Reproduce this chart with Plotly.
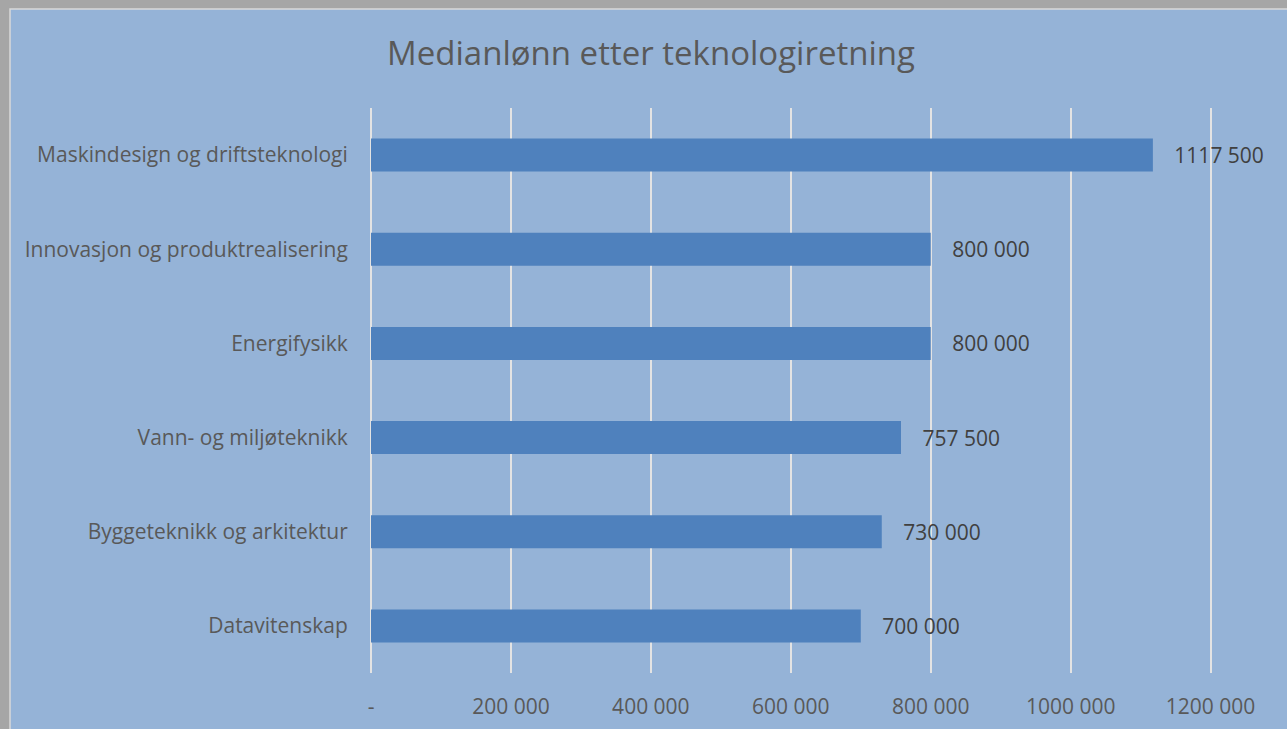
import plotly.graph_objects as go

categories = ["Datavitenskap", "Byggeteknikk og arkitektur", "Vann- og miljøteknikk",
              "Energifysikk", "Innovasjon og produktrealisering", "Maskindesign og driftsteknologi"]
values = [700000, 730000, 757500, 800000, 800000, 1117500]
value_labels = ["700 000", "730 000", "757 500", "800 000", "800 000", "1117 500"]
tick_vals = [0, 200000, 400000, 600000, 800000, 1000000, 1200000]
tick_text = ["-", "200 000", "400 000", "600 000", "800 000", "1000 000", "1200 000"]

W, H = 1287, 729
ml, mr, mt, mb = 371, 75, 108, 56
pw, ph = W - ml - mr, H - mt - mb

def px(x):
    return (x - ml) / pw

def py(y):
    return (H - mb - y) / ph

FONT = "Open Sans"

fig = go.Figure(go.Bar(
    y=categories, x=values, orientation="h",
    marker=dict(color="#4F81BD", line=dict(width=0)),
    text=["   \u200a" + t for t in value_labels], textposition="outside",
    textfont=dict(color="#404040", size=21, family=FONT),
    cliponaxis=False, width=0.35,
))

fig.add_shape(type="rect", xref="paper", yref="paper",
              x0=px(10), x1=px(W + 20), y0=py(H + 20), y1=py(9),
              fillcolor="#95B3D7", line=dict(color="#D9D9D9", width=1.5), layer="below")

fig.update_layout(
    width=W, height=H,
    margin=dict(l=ml, r=mr, t=mt, b=mb, pad=0, autoexpand=False),
    paper_bgcolor="#A6A6A6", plot_bgcolor="rgba(0,0,0,0)",
    showlegend=False,
    title=dict(text="Medianlønn etter teknologiretning", x=651 / W, xanchor="center",
               xref="container", y=1 - 53 / H, yanchor="middle",
               font=dict(family=FONT, size=33, color="#595959")),
    xaxis=dict(range=[0, 1202000], tickvals=tick_vals, ticktext=tick_text,
               showgrid=True, gridcolor="#E3E3E3", gridwidth=1.5,
               zeroline=True, zerolinecolor="#E3E3E3", zerolinewidth=1.5,
               showline=False, automargin=False,
               ticks="outside", ticklen=15, tickcolor="rgba(0,0,0,0)",
               tickfont=dict(family=FONT, size=21, color="#595959")),
    yaxis=dict(showgrid=False, zeroline=False, showline=False, automargin=False,
               ticks="outside", ticklen=18, tickcolor="rgba(0,0,0,0)",
               tickfont=dict(family=FONT, size=21, color="#595959")),
    bargap=0.65,
)

fig.write_html("out.html",
               config={"displayModeBar": False},
               post_script="document.body.style.margin='0';"
                           "document.body.style.background='#A6A6A6';")
